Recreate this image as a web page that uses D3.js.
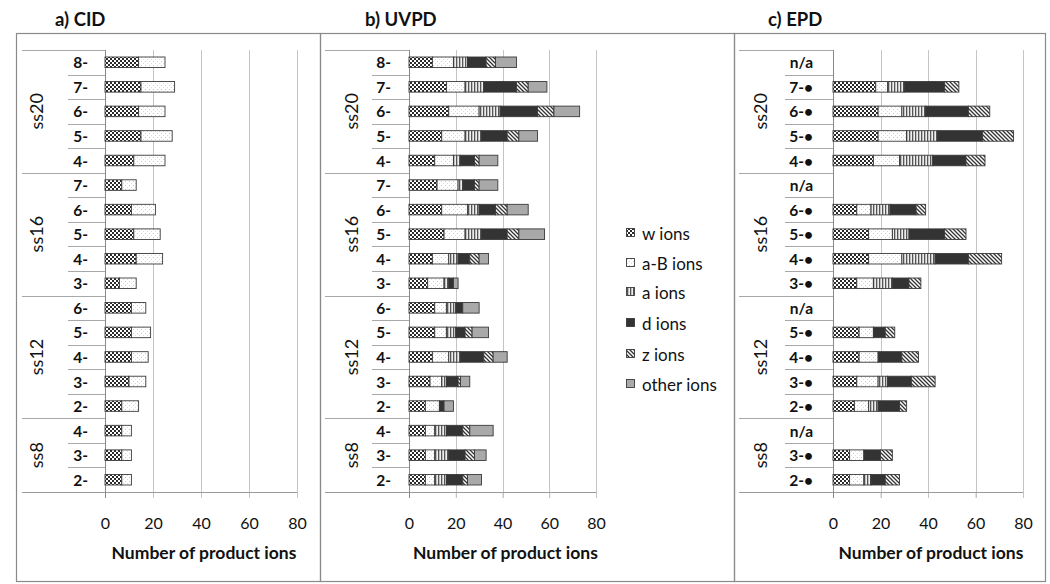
<!DOCTYPE html>
<html><head><meta charset="utf-8">
<script src="https://cdn.jsdelivr.net/npm/d3@7"></script>
<style>
html,body{margin:0;padding:0;background:#fff;}
svg{display:block;font-family:Lato,"Open Sans",sans-serif;}
</style></head>
<body>
<svg id="chart" width="1050" height="584"></svg>
<script>
// ---------- data ----------
const ionTypes = ["w ions", "a-B ions", "a ions", "d ions", "z ions", "other ions"];
const groups = ["ss20", "ss16", "ss12", "ss8"];
const groupSizes = [5, 5, 5, 3];
const tickValues = [0, 20, 40, 60, 80];
const axisTitle = "Number of product ions";
const panelTitles = ["a) CID", "b) UVPD", "c) EPD"];

// rows listed top to bottom
const cidLabels = ["8-","7-","6-","5-","4-", "7-","6-","5-","4-","3-", "6-","5-","4-","3-","2-", "4-","3-","2-"];
const cidW  = [14,15,14,15,12, 7,11,12,13,6, 11,11,11,10,7, 7,7,7];
const cidAB = [11,14,11,13,13, 6,10,11,11,7, 6,8,7,7,7, 4,4,4];

const uvpdLabels = cidLabels.slice();
const uvpdW     = [10,16,17,14,11, 12,14,15,10,8, 11,11,10,9,7, 7,7,7];
const uvpdAB    = [9,8,13,10,8,   9,11,9,7,7,    5,5,7,5,6,   4,4,4];
const uvpdA     = [6,8,9,7,3,     2,5,7,4,2,     4,4,5,2,0,   5,6,5];
const uvpdD     = [8,14,16,11,6,  5,7,11,5,2,    3,4,10,5,2,  7,7,7];
const uvpdZ     = [4,5,7,5,2,     2,5,5,4,0,     0,3,4,1,0,   3,4,2];
const uvpdOther = [9,8,11,8,8,    8,9,11,4,2,    7,7,6,4,4,   10,5,6];

const epdLabels = ["n/a","7-•","6-•","5-•","4-•", "n/a","6-•","5-•","4-•","3-•", "n/a","5-•","4-•","3-•","2-•", "n/a","3-•","2-•"];
const epdW  = [null,18,19,19,17, null,10,15,15,10, null,11,11,10,9, null,7,7];
const epdAB = [null,5,10,12,11,  null,6,10,14,7,   null,6,8,9,6,    null,6,6];
const epdA  = [null,7,10,13,14,  null,8,7,14,8,    null,0,0,4,4,    null,0,3];
const epdD  = [null,17,18,19,14, null,11,15,14,7,  null,5,10,10,9,  null,7,6];
const epdZ  = [null,6,9,13,8,    null,4,9,14,5,    null,4,7,10,3,   null,5,6];

// ---------- drawing ----------
const svg = d3.select("#chart");
const defs = svg.append("defs");

function pat(id, w, h, draw) {
  const p = defs.append("pattern").attr("id", id).attr("patternUnits", "userSpaceOnUse")
    .attr("width", w).attr("height", h);
  draw(p);
}
pat("p-w", 4, 4, p => {
  p.append("rect").attr("width", 4).attr("height", 4).attr("fill", "#fff");
  p.append("rect").attr("width", 2).attr("height", 2).attr("fill", "#2a2a2a");
  p.append("rect").attr("x", 2).attr("y", 2).attr("width", 2).attr("height", 2).attr("fill", "#2a2a2a");
});
pat("p-ab", 4, 4, p => {
  p.append("rect").attr("width", 4).attr("height", 4).attr("fill", "#fff");
  p.append("rect").attr("x", 1).attr("y", 1).attr("width", 1).attr("height", 1).attr("fill", "#c8c8c8");
  p.append("rect").attr("x", 3).attr("y", 3).attr("width", 1).attr("height", 1).attr("fill", "#dcdcdc");
});
pat("p-a", 3, 4, p => {
  p.append("rect").attr("width", 3).attr("height", 4).attr("fill", "#eee");
  p.append("rect").attr("x", 0).attr("width", 1.3).attr("height", 4).attr("fill", "#555");
});
pat("p-z", 4, 4, p => {
  p.append("rect").attr("width", 4).attr("height", 4).attr("fill", "#fff");
  p.append("path").attr("d", "M-1,-1 L5,5 M-1,3 L1,5 M3,-1 L5,1").attr("stroke", "#333").attr("stroke-width", 1.3);
});
const fills = ["url(#p-w)", "url(#p-ab)", "url(#p-a)", "#333333", "url(#p-z)", "#a9a9a9"];

const plotTop = 50, plotBottom = 492;

const panels = [
  { title: panelTitles[0], labels: cidLabels, series: [cidW, cidAB],
    box: [16, 320], titleX: 55, x0: 105, x1: 297, gLeft: 22, rLeft: 68, gLabX: 36, labRight: 88 },
  { title: panelTitles[1], labels: uvpdLabels, series: [uvpdW, uvpdAB, uvpdA, uvpdD, uvpdZ, uvpdOther],
    box: [320, 734], titleX: 365, x0: 409, x1: 596, gLeft: 325, rLeft: 372, gLabX: 351, labRight: 391 },
  { title: panelTitles[2], labels: epdLabels, series: [epdW, epdAB, epdA, epdD, epdZ],
    box: [734, 1045], titleX: 768, x0: 833, x1: 1023, gLeft: 739, rLeft: 785, gLabX: 760, labRight: 813 }
];

panels.forEach(P => {
  const g = svg.append("g");
  g.append("rect").attr("x", P.box[0] + 0.5).attr("y", 33.5)
    .attr("width", P.box[1] - P.box[0]).attr("height", 548)
    .attr("fill", "none").attr("stroke", "#8a8a8a").attr("stroke-width", 1.2);
  g.append("text").attr("x", P.titleX).attr("y", 26).attr("font-size", 18.5)
    .attr("font-weight", 700).attr("fill", "#111").text(P.title);

  const x = d3.scaleLinear().domain([0, 80]).range([P.x0, P.x1]);
  const idx = d3.range(P.labels.length);
  const y = d3.scaleBand().domain(idx).range([plotTop, plotBottom]).paddingInner(0.57).paddingOuter(0.285);
  const step = y.step();

  g.selectAll("line.grid").data(tickValues.slice(1)).join("line")
    .attr("x1", d => Math.round(x(d)) + 0.5).attr("x2", d => Math.round(x(d)) + 0.5)
    .attr("y1", plotTop).attr("y2", plotBottom + 6)
    .attr("stroke", "#c4c4c4").attr("stroke-width", 1);

  const axis = d3.axisBottom(x).tickValues(tickValues).tickSize(6).tickPadding(20).tickFormat(d3.format("d"));
  const ax = g.append("g").attr("transform", `translate(0,${plotBottom})`).call(axis);
  ax.select(".domain").remove();
  ax.selectAll(".tick line").attr("stroke", "#c4c4c4");
  ax.selectAll(".tick text").attr("font-size", 16).attr("fill", "#111")
    .attr("font-family", "Lato, sans-serif");
  g.append("line").attr("x1", P.gLeft).attr("x2", P.x1).attr("y1", plotBottom + 0.5).attr("y2", plotBottom + 0.5)
    .attr("stroke", "#9a9a9a");

  let start = 0;
  const groupBounds = [];
  groupSizes.forEach(n => { groupBounds.push([start, start + n]); start += n; });
  idx.forEach(i => {
    if (i === 0) return;
    const isGroup = groupBounds.some(b => b[0] === i);
    const yy = Math.round(plotTop + i * step) + 0.5;
    g.append("line").attr("x1", isGroup ? P.gLeft : P.rLeft).attr("x2", P.x0)
      .attr("y1", yy).attr("y2", yy).attr("stroke", "#a8a8a8");
  });
  g.append("line").attr("x1", P.gLeft).attr("x2", P.x0).attr("y1", plotTop + 0.5).attr("y2", plotTop + 0.5)
    .attr("stroke", "#a8a8a8");
  g.append("line").attr("x1", Math.round(x(0)) + 0.5).attr("x2", Math.round(x(0)) + 0.5)
    .attr("y1", plotTop).attr("y2", plotBottom + 6).attr("stroke", "#8a8a8a");

  groupBounds.forEach((b, gi) => {
    const cy = plotTop + (b[0] + b[1]) / 2 * step;
    g.append("text").attr("transform", `translate(${P.gLabX},${cy}) rotate(-90)`)
      .attr("text-anchor", "middle").attr("dominant-baseline", "central")
      .attr("font-size", 18).attr("fill", "#111").text(groups[gi]);
  });

  g.selectAll("text.row").data(idx).join("text")
    .attr("x", P.labRight).attr("y", i => y(i) + y.bandwidth() / 2)
    .attr("text-anchor", "end").attr("dominant-baseline", "central")
    .attr("font-size", 15.5).attr("font-weight", 700).attr("fill", "#111")
    .text(i => P.labels[i]);

  idx.forEach(i => {
    let acc = 0;
    P.series.forEach((s, si) => {
      const v = s[i];
      if (v == null || v === 0) return;
      g.append("rect").attr("x", x(acc)).attr("y", y(i))
        .attr("width", x(acc + v) - x(acc)).attr("height", y.bandwidth())
        .attr("fill", fills[si]).attr("stroke", "#3a3a3a").attr("stroke-width", 0.9);
      acc += v;
    });
  });

  g.append("text").attr("x", (P.x0 + P.x1) / 2 + 3).attr("y", 559).attr("text-anchor", "middle")
    .attr("font-size", 17.5).attr("font-weight", 700).attr("fill", "#111").text(axisTitle);
});

const legY = [233, 263, 292, 323, 354, 384];
const leg = svg.append("g");
ionTypes.forEach((t, i) => {
  leg.append("rect").attr("x", 626.5).attr("y", legY[i] - 4.5).attr("width", 8).attr("height", 8)
    .attr("fill", fills[i]).attr("stroke", "#3a3a3a").attr("stroke-width", 0.9);
  leg.append("text").attr("x", 642).attr("y", legY[i]).attr("dominant-baseline", "central")
    .attr("font-size", 17).attr("fill", "#111").text(t);
});
</script>
</body></html>
